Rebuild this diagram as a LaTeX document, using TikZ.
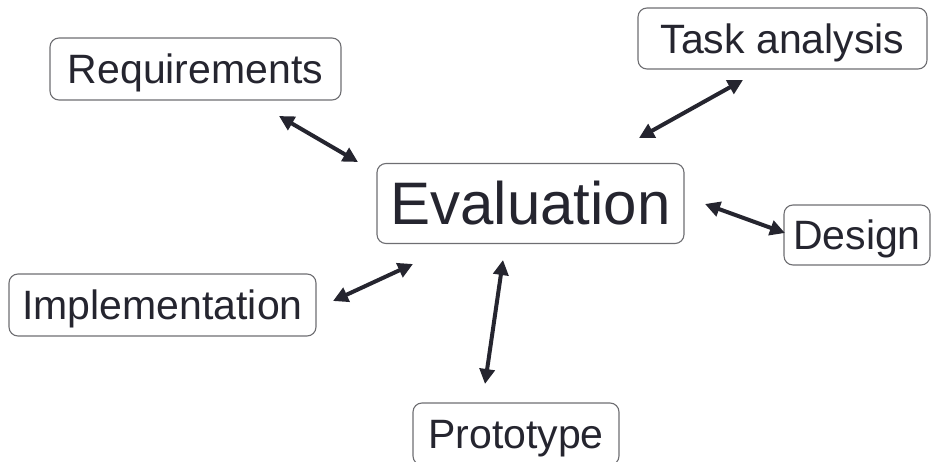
\documentclass[tikz,border=0pt]{standalone}
\usepackage{fontspec}
\setmainfont{Liberation Sans}
\usetikzlibrary{arrows.meta}
\definecolor{ink}{HTML}{25252F}
\definecolor{frame}{HTML}{6E6E72}
\tikzset{
  box/.style={draw=frame, line width=1.1pt, rounded corners=9pt, inner sep=0pt,
    text=ink, font=\fontsize{41}{41}\selectfont, fill=white,
    text height=29.4pt, text depth=0pt},
  bigbox/.style={box, font=\fontsize{60}{60}\selectfont, text height=43pt},
  link/.style={draw=ink, line width=4pt, {Triangle[length=15pt,width=15pt]}-{Triangle[length=15pt,width=15pt]}}
}
\begin{document}
\begin{tikzpicture}[x=1pt,y=-1pt]
\useasboundingbox (0,0) rectangle (931,462);
\node[box, minimum width=291pt, minimum height=62pt] (req) at (195.5,69) {Requirements};
\node[box, minimum width=289pt, minimum height=61pt] (task) at (782.5,38.5) {Task analysis};
\node[bigbox, minimum width=307pt, minimum height=80pt] (eval) at (530.5,203.5) {Evaluation};
\node[box, minimum width=146pt, minimum height=60pt] (design) at (857,235) {Design};
\node[box, minimum width=307pt, minimum height=62pt] (impl) at (162.5,305) {Implementation};
\node[box, minimum width=206pt, minimum height=62pt] (proto) at (516,434) {Prototype};
\coordinate (reqA) at (279,116);
\coordinate (reqB) at (358,162);
\coordinate (taskA) at (743,80);
\coordinate (taskB) at (639,138);
\coordinate (desA) at (705,204);
\coordinate (desB) at (785,233);
\coordinate (implA) at (333,301);
\coordinate (implB) at (413,264);
\coordinate (protoA) at (503,260);
\coordinate (protoB) at (485,384);
\draw[link] (reqA) -- (reqB);
\draw[link] (taskA) -- (taskB);
\draw[link] (desA) -- (desB);
\draw[link] (implA) -- (implB);
\draw[link] (protoA) -- (protoB);
\end{tikzpicture}
\end{document}
